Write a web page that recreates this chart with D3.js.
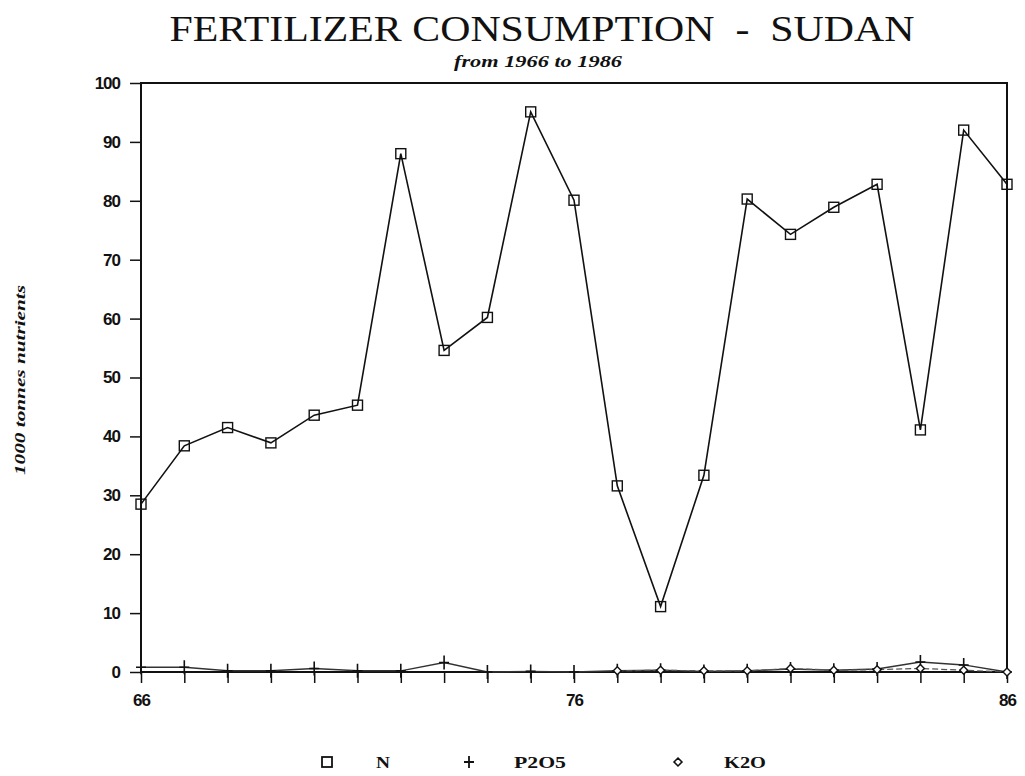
<!DOCTYPE html>
<html>
<head>
<meta charset="utf-8">
<script src="https://cdn.jsdelivr.net/npm/d3@7"></script>
<style>
  body { margin: 0; background: #fff; }
  svg { display: block; }
</style>
</head>
<body>
<div id="chart"></div>
<script>
// data (1000 tonnes nutrients)
var years = d3.range(1966, 1987);
var nValues = [28.5, 38.4, 41.5, 38.9, 43.6, 45.3, 88.0, 54.6, 60.2, 95.1, 80.1,
               31.6, 11.1, 33.4, 80.3, 74.3, 78.9, 82.8, 41.1, 92.0, 82.8];
var p2o5Values = [0.8, 0.8, 0.2, 0.2, 0.6, 0.2, 0.2, 1.6, 0.0, 0.1, 0.0,
                  0.2, 0.3, 0.1, 0.2, 0.5, 0.3, 0.5, 1.7, 1.2, 0.0];
var k2oYears = d3.range(1977, 1987);
var k2oValues = [0.2, 0.3, 0.2, 0.2, 0.6, 0.3, 0.4, 0.6, 0.3, 0.0];
var yTicks = [0, 10, 20, 30, 40, 50, 60, 70, 80, 90, 100];
var xLabelYears = [1966, 1976, 1986];
var legendItems = ["N", "P2O5", "K2O"];

var W = 1025, H = 776;
var margin = {top: 83, right: 18, bottom: 104, left: 141};
var width = W - margin.left - margin.right,
    height = H - margin.top - margin.bottom;

var svg = d3.select("#chart").append("svg")
    .attr("width", W).attr("height", H);

var g = svg.append("g")
    .attr("transform", "translate(" + margin.left + "," + margin.top + ")");

var x = d3.scaleLinear().domain([1966, 1986]).range([0, width]);
var y = d3.scaleLinear().domain([0, 100]).range([height, 0]);

var ink = "#111";
var numFont = "'Liberation Sans', Arial, sans-serif";
var serif = "'Liberation Serif', 'DejaVu Serif', serif";

// frame
g.append("rect")
    .attr("x", 0).attr("y", 0)
    .attr("width", width).attr("height", height)
    .attr("fill", "none").attr("stroke", ink).attr("stroke-width", 2);

// y axis
var yAxis = g.append("g")
    .call(d3.axisLeft(y).tickValues(yTicks).tickSize(11).tickPadding(10));
yAxis.select(".domain").remove();
yAxis.selectAll("line").attr("stroke", ink).attr("stroke-width", 1.5);
yAxis.selectAll("text")
    .attr("font-family", numFont).attr("font-weight", "bold")
    .attr("font-size", "17px").attr("fill", ink)
    .attr("letter-spacing", "-1px");

// x axis: tick at every year, labels at 66, 76, 86
var xAxis = g.append("g")
    .attr("transform", "translate(0," + height + ")")
    .call(d3.axisBottom(x).tickValues(years).tickSize(11)
      .tickFormat(function(d) { return xLabelYears.indexOf(d) >= 0 ? String(d).slice(2) : ""; })
      .tickPadding(11));
xAxis.select(".domain").remove();
xAxis.selectAll("line").attr("stroke", ink).attr("stroke-width", 1.5);
xAxis.selectAll("text")
    .attr("font-family", numFont).attr("font-weight", "bold")
    .attr("font-size", "17px").attr("fill", ink)
    .attr("letter-spacing", "-1px");

var line = d3.line()
    .x(function(d) { return x(d[0]); })
    .y(function(d) { return y(d[1]); });

var nData = years.map(function(yr, i) { return [yr, nValues[i]]; });
var pData = years.map(function(yr, i) { return [yr, p2o5Values[i]]; });
var kData = k2oYears.map(function(yr, i) { return [yr, k2oValues[i]]; });

// P2O5 and K2O near zero
g.append("path").datum(pData)
    .attr("d", line).attr("fill", "none")
    .attr("stroke", "#333").attr("stroke-width", 1.4);
g.append("path").datum(kData)
    .attr("d", line).attr("fill", "none")
    .attr("stroke", "#555").attr("stroke-width", 1.2)
    .attr("stroke-dasharray", "6,3");

// N line
g.append("path").datum(nData)
    .attr("d", line).attr("fill", "none")
    .attr("stroke", ink).attr("stroke-width", 1.6);

// markers
g.selectAll(".sq").data(nData).enter().append("rect")
    .attr("class", "sq")
    .attr("x", function(d) { return x(d[0]) - 5; })
    .attr("y", function(d) { return y(d[1]) - 5; })
    .attr("width", 10).attr("height", 10)
    .attr("fill", "none").attr("stroke", ink).attr("stroke-width", 1.4);

g.selectAll(".plus").data(pData).enter().append("path")
    .attr("class", "plus")
    .attr("d", function(d) {
      var cx = x(d[0]), cy = y(d[1]);
      return "M" + (cx - 5) + "," + cy + "H" + (cx + 5) + "M" + cx + "," + (cy - 7) + "V" + (cy + 7);
    })
    .attr("stroke", ink).attr("stroke-width", 1.6);

g.selectAll(".dia").data(kData).enter().append("path")
    .attr("class", "dia")
    .attr("d", d3.symbol().type(d3.symbolDiamond2).size(40))
    .attr("transform", function(d) { return "translate(" + x(d[0]) + "," + y(d[1]) + ")"; })
    .attr("fill", "#fff").attr("stroke", ink).attr("stroke-width", 1.4);

// titles
svg.append("text")
    .attr("x", 542).attr("y", 41)
    .attr("text-anchor", "middle")
    .attr("font-family", serif)
    .attr("font-size", "35px").attr("fill", ink)
    .attr("textLength", 745).attr("lengthAdjust", "spacingAndGlyphs")
    .text("FERTILIZER CONSUMPTION \u00a0-\u00a0 SUDAN");

svg.append("text")
    .attr("x", 538).attr("y", 67)
    .attr("text-anchor", "middle")
    .attr("font-family", serif)
    .attr("font-weight", "bold").attr("font-style", "italic")
    .attr("font-size", "16px").attr("fill", ink)
    .attr("textLength", 168).attr("lengthAdjust", "spacingAndGlyphs")
    .text("from 1966 to 1986");

svg.append("text")
    .attr("transform", "translate(25,380) rotate(-90)")
    .attr("text-anchor", "middle")
    .attr("font-family", serif)
    .attr("font-weight", "bold").attr("font-style", "italic")
    .attr("font-size", "14px").attr("fill", ink)
    .attr("textLength", 190).attr("lengthAdjust", "spacingAndGlyphs")
    .text("1000 tonnes nutrients");

// legend
var legendX = [327, 469, 678];
var legendTextX = [376, 514, 724];
var legendTextW = [14, 52, 42];
var ly = 762;
var legend = svg.append("g");
legend.append("rect")
    .attr("x", legendX[0] - 5).attr("y", ly - 5)
    .attr("width", 10).attr("height", 10)
    .attr("fill", "none").attr("stroke", ink).attr("stroke-width", 1.8);
legend.append("path")
    .attr("d", "M" + (legendX[1] - 5) + "," + ly + "H" + (legendX[1] + 5) +
               "M" + legendX[1] + "," + (ly - 6) + "V" + (ly + 6))
    .attr("stroke", ink).attr("stroke-width", 1.8);
legend.append("path")
    .attr("d", d3.symbol().type(d3.symbolDiamond2).size(40))
    .attr("transform", "translate(" + legendX[2] + "," + ly + ")")
    .attr("fill", "none").attr("stroke", ink).attr("stroke-width", 1.6);
legend.selectAll(".lt").data(legendItems).enter().append("text")
    .attr("x", function(d, i) { return legendTextX[i]; })
    .attr("y", ly + 6)
    .attr("font-family", serif)
    .attr("font-weight", "bold").attr("font-size", "17px").attr("fill", ink)
    .attr("textLength", function(d, i) { return legendTextW[i]; })
    .attr("lengthAdjust", "spacingAndGlyphs")
    .text(function(d) { return d; });
</script>
</body>
</html>
